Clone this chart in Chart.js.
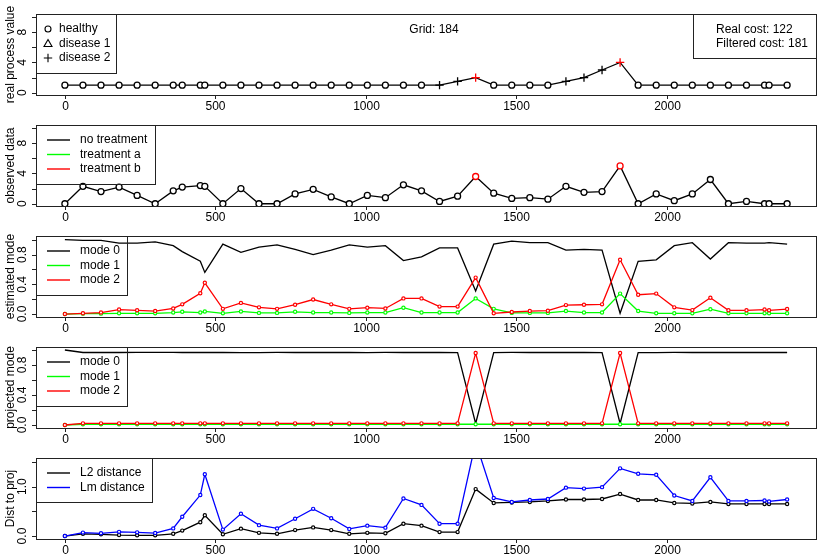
<!DOCTYPE html>
<html>
<head>
<meta charset="utf-8">
<script src="https://cdn.jsdelivr.net/npm/chart.js@4.4.0/dist/chart.umd.min.js"></script>
<style>
  body { margin: 0; background: #fff; }
  #wrap { position: relative; width: 830px; height: 554px; }
  canvas { position: absolute; left: 0; }
</style>
</head>
<body>
<div id="wrap"></div>
<script>
// time grid of the observations
var times = [0, 60, 120, 180, 240, 300, 360, 390, 450, 465, 525, 585, 645, 705, 765, 825, 885, 945, 1005, 1065,
  1125, 1185, 1245, 1305, 1365, 1425, 1485, 1545, 1605, 1665, 1725, 1785, 1845, 1905, 1965, 2025, 2085, 2145,
  2205, 2265, 2325, 2340, 2400];

// panel 1: real process (state 0 = healthy, 1 = disease 1, 2 = disease 2)
var realValue = [1, 1, 1, 1, 1, 1, 1, 1, 1, 1, 1, 1, 1, 1, 1, 1, 1, 1, 1, 1, 1, 1, 1, 1.5, 2, 1, 1, 1, 1, 1.5,
  2, 3, 4, 1, 1, 1, 1, 1, 1, 1, 1, 1, 1];
var realState = [0, 0, 0, 0, 0, 0, 0, 0, 0, 0, 0, 0, 0, 0, 0, 0, 0, 0, 0, 0, 0, 0, 2, 2, 2, 0, 0, 0, 0, 2,
  2, 2, 2, 0, 0, 0, 0, 0, 0, 0, 0, 0, 0];
// treatment given: 0 none, 1 a, 2 b
var treatment = [0, 0, 0, 0, 0, 0, 0, 0, 0, 0, 0, 0, 0, 0, 0, 0, 0, 0, 0, 0, 0, 0, 0, 0, 2, 0, 0, 0, 0, 0,
  0, 0, 2, 0, 0, 0, 0, 0, 0, 0, 0, 0, 0];

// panel 2: observed data
var observed = [0, 2.3, 1.6, 2.2, 1.1, 0, 1.7, 2.2, 2.4, 2.3, 0, 2.0, 0, 0, 1.3, 1.9, 0.9, 0, 1.1, 0.8,
  2.5, 1.7, 0.3, 1.0, 3.6, 1.4, 0.7, 0.8, 0.6, 2.3, 1.5, 1.6, 5.0, 0, 1.3, 0.4, 1.3, 3.2, 0, 0.3, 0, 0, 0];

// panel 3: estimated mode probabilities
var estMode0 = [1.0, 0.99, 0.99, 0.955, 0.955, 0.97, 0.92, 0.84, 0.71, 0.56, 0.94, 0.83, 0.90, 0.93, 0.87,
  0.80, 0.86, 0.93, 0.90, 0.92, 0.72, 0.77, 0.89, 0.89, 0.31, 0.94, 0.98, 0.96, 0.96, 0.86, 0.87, 0.86,
  0.01, 0.71, 0.73, 0.92, 0.96, 0.74, 0.96, 0.955, 0.955, 0.96, 0.94];
var estMode1 = [0, 0.005, 0.005, 0.01, 0.01, 0.01, 0.02, 0.03, 0.02, 0.035, 0.01, 0.035, 0.015, 0.015, 0.03,
  0.02, 0.02, 0.015, 0.02, 0.02, 0.085, 0.02, 0.02, 0.02, 0.21, 0.07, 0.015, 0.015, 0.015, 0.04, 0.02, 0.02,
  0.275, 0.04, 0.01, 0.01, 0.01, 0.065, 0.01, 0.01, 0.01, 0.01, 0.01];
var estMode2 = [0, 0.01, 0.02, 0.06, 0.05, 0.04, 0.075, 0.13, 0.28, 0.42, 0.07, 0.15, 0.09, 0.07, 0.125,
  0.195, 0.13, 0.07, 0.085, 0.075, 0.21, 0.21, 0.10, 0.10, 0.49, 0.01, 0.027, 0.04, 0.045, 0.12, 0.125, 0.13,
  0.73, 0.26, 0.275, 0.09, 0.053, 0.22, 0.05, 0.05, 0.06, 0.05, 0.067];

// panel 4: projected mode probabilities
var projMode0 = [1.0, 0.967, 0.967, 0.967, 0.968, 0.968, 0.967, 0.967, 0.967, 0.967, 0.967, 0.964, 0.966,
  0.967, 0.967, 0.967, 0.967, 0.967, 0.966, 0.967, 0.967, 0.967, 0.967, 0.964, 0.02, 0.964, 0.967, 0.967,
  0.967, 0.967, 0.967, 0.964, 0.02, 0.964, 0.966, 0.967, 0.967, 0.967, 0.967, 0.967, 0.967, 0.967, 0.967];
var projMode1 = [0, 0.01, 0.01, 0.01, 0.01, 0.01, 0.01, 0.01, 0.01, 0.01, 0.01, 0.01, 0.01, 0.01, 0.01,
  0.01, 0.01, 0.01, 0.01, 0.01, 0.01, 0.01, 0.01, 0.01, 0.01, 0.01, 0.01, 0.01, 0.01, 0.01, 0.01, 0.01,
  0.01, 0.01, 0.01, 0.01, 0.01, 0.01, 0.01, 0.01, 0.01, 0.01, 0.01];
var projMode2 = [0, 0.022, 0.022, 0.022, 0.022, 0.022, 0.022, 0.022, 0.022, 0.022, 0.022, 0.022, 0.022,
  0.022, 0.022, 0.022, 0.022, 0.022, 0.022, 0.022, 0.022, 0.022, 0.022, 0.022, 0.96, 0.022, 0.022, 0.022,
  0.022, 0.022, 0.022, 0.022, 0.96, 0.022, 0.022, 0.022, 0.022, 0.022, 0.022, 0.022, 0.022, 0.022, 0.022];

// panel 5: distance to projection
var distL2 = [0, 0.045, 0.035, 0.02, 0.015, 0.015, 0.045, 0.11, 0.28, 0.42, 0.035, 0.15, 0.065, 0.045, 0.12,
  0.175, 0.12, 0.045, 0.065, 0.055, 0.25, 0.21, 0.08, 0.08, 0.95, 0.67, 0.68, 0.69, 0.71, 0.74, 0.74, 0.75,
  0.85, 0.73, 0.73, 0.67, 0.66, 0.69, 0.65, 0.65, 0.65, 0.65, 0.65];
var distLm = [0, 0.07, 0.055, 0.085, 0.075, 0.06, 0.155, 0.39, 0.83, 1.25, 0.13, 0.45, 0.22, 0.155, 0.35,
  0.55, 0.36, 0.145, 0.21, 0.17, 0.76, 0.63, 0.25, 0.25, 1.9, 0.77, 0.69, 0.73, 0.75, 0.98, 0.96, 0.99,
  1.37, 1.26, 1.24, 0.82, 0.71, 1.19, 0.71, 0.71, 0.72, 0.70, 0.74];

var xTicks = [0, 500, 1000, 1500, 2000];
var countTicks = [0, 2, 4, 6, 8, 10];
var countLabels = [0, 4, 8];
var probTicks = [0, 0.2, 0.4, 0.6, 0.8, 1.0];
var probLabels = [0, 0.4, 0.8];
var distTicks = [0, 0.5, 1.0, 1.5];
var distLabels = [0, 1.0];

var gridSize = 184, realCost = 122, filteredCost = 181;

var BLACK = '#000000', GREEN = '#00ff00', RED = '#ff0000', BLUE = '#0000ff';
var FONT = '"Liberation Sans", Arial, Helvetica, sans-serif';

function pts(ys) {
  return times.map(function(t, i) { return {x: t, y: ys[i]}; });
}

function smallPts(ys, color) {
  return {
    data: pts(ys), borderColor: color, borderWidth: 1.3,
    pointRadius: 1.6, pointBorderWidth: 1.2, pointBorderColor: color, pointBackgroundColor: '#fff'
  };
}

function plainLine(ys, color) {
  return { data: pts(ys), borderColor: color, borderWidth: 1.3, pointRadius: 0 };
}

var stateStyle = ['circle', 'triangle', 'cross'];
var treatColor = [BLACK, GREEN, RED];

var panels = [
  {
    yMin: -0.3, yMax: 10.4, ticks: countTicks, labels: countLabels, digits: 0,
    title: 'real process value',
    legend: {w: 80, kind: 'symbol', items: [['circle', 'healthy'], ['triangle', 'disease 1'], ['cross', 'disease 2']]},
    extra: true,
    datasets: [{
      data: pts(realValue), borderColor: BLACK, borderWidth: 1.3,
      pointStyle: realState.map(function(s) { return stateStyle[s]; }),
      pointRadius: realState.map(function(s) { return s === 2 ? 4.2 : 3; }),
      pointBorderColor: treatment.map(function(t) { return treatColor[t]; }),
      pointBackgroundColor: '#fff', pointBorderWidth: 1.3
    }]
  },
  {
    yMin: -0.3, yMax: 10.4, ticks: countTicks, labels: countLabels, digits: 0,
    title: 'observed data',
    legend: {w: 119, kind: 'line', items: [[BLACK, 'no treatment'], [GREEN, 'treatment a'], [RED, 'treatment b']]},
    datasets: [{
      data: pts(observed), borderColor: BLACK, borderWidth: 1.3,
      pointRadius: 3, pointBorderWidth: 1.3, pointBackgroundColor: '#fff',
      pointBorderColor: treatment.map(function(t) { return treatColor[t]; })
    }]
  },
  {
    yMin: -0.04, yMax: 1.05, ticks: probTicks, labels: probLabels, digits: 1,
    title: 'estimated mode',
    legend: {w: 91, kind: 'line', items: [[BLACK, 'mode 0'], [GREEN, 'mode 1'], [RED, 'mode 2']]},
    datasets: [smallPts(estMode2, RED), smallPts(estMode1, GREEN), plainLine(estMode0, BLACK)]
  },
  {
    yMin: -0.04, yMax: 1.04, ticks: probTicks, labels: probLabels, digits: 1,
    title: 'projected mode',
    legend: {w: 91, kind: 'line', items: [[BLACK, 'mode 0'], [GREEN, 'mode 1'], [RED, 'mode 2']]},
    datasets: [smallPts(projMode2, RED), smallPts(projMode1, GREEN), plainLine(projMode0, BLACK)]
  },
  {
    yMin: -0.06, yMax: 1.58, ticks: distTicks, labels: distLabels, digits: 1,
    title: 'Dist to proj',
    legend: {w: 116, kind: 'line', items: [[BLACK, 'L2 distance'], [BLUE, 'Lm distance']]},
    datasets: [smallPts(distLm, BLUE), smallPts(distL2, BLACK)]
  }
];

function drawSymbol(ctx, kind, cx, cy) {
  ctx.beginPath();
  if (kind === 'circle') {
    ctx.arc(cx, cy, 3, 0, Math.PI * 2);
  } else if (kind === 'triangle') {
    ctx.moveTo(cx, cy - 4); ctx.lineTo(cx + 4, cy + 3); ctx.lineTo(cx - 4, cy + 3); ctx.closePath();
  } else {
    ctx.moveTo(cx - 4.2, cy); ctx.lineTo(cx + 4.2, cy);
    ctx.moveTo(cx, cy - 4.2); ctx.lineTo(cx, cy + 4.2);
  }
  ctx.stroke();
}

var rFrame = {
  id: 'rFrame',
  afterDraw: function(chart, args, o) {
    var ctx = chart.ctx, a = chart.chartArea, xs = chart.scales.x, ys = chart.scales.y;
    ctx.save();
    ctx.strokeStyle = '#222'; ctx.fillStyle = '#000'; ctx.lineWidth = 1;
    ctx.strokeRect(Math.round(a.left) + 0.5, Math.round(a.top) + 0.5,
      Math.round(a.right - a.left), Math.round(a.bottom - a.top));

    // x axis
    ctx.font = '12px ' + FONT;
    ctx.textAlign = 'center'; ctx.textBaseline = 'middle';
    xTicks.forEach(function(v) {
      var px = Math.round(xs.getPixelForValue(v)) + 0.5;
      ctx.beginPath(); ctx.moveTo(px, a.bottom); ctx.lineTo(px, a.bottom + 4); ctx.stroke();
      ctx.fillText(String(v), px, a.bottom + 12);
    });

    // y axis
    o.ticks.forEach(function(v) {
      var py = Math.round(ys.getPixelForValue(v)) + 0.5;
      ctx.beginPath(); ctx.moveTo(a.left - 4, py); ctx.lineTo(a.left, py); ctx.stroke();
    });
    ctx.textBaseline = 'alphabetic';
    o.labels.forEach(function(v) {
      var py = ys.getPixelForValue(v);
      ctx.save(); ctx.translate(26, py); ctx.rotate(-Math.PI / 2);
      ctx.fillText(v.toFixed(o.digits), 0, 0);
      ctx.restore();
    });

    // axis title
    ctx.font = '12px ' + FONT;
    ctx.save(); ctx.translate(14, (a.top + a.bottom) / 2); ctx.rotate(-Math.PI / 2);
    ctx.textBaseline = 'alphabetic';
    ctx.fillText(o.title, 0, 0);
    ctx.restore();

    // legend box
    var lg = o.legend, n = lg.items.length;
    var bh = n === 3 ? 59 : 44;
    ctx.strokeRect(Math.round(a.left) + 0.5, Math.round(a.top) + 0.5, lg.w, bh);
    ctx.textAlign = 'left'; ctx.textBaseline = 'middle';
    lg.items.forEach(function(it, i) {
      var cy = a.top + 15 + i * 14.5;
      if (lg.kind === 'symbol') {
        ctx.strokeStyle = '#000'; ctx.lineWidth = 1.1;
        drawSymbol(ctx, it[0], a.left + 12, cy);
        ctx.fillText(it[1], a.left + 23, cy);
      } else {
        ctx.strokeStyle = it[0]; ctx.lineWidth = 1.4;
        ctx.beginPath(); ctx.moveTo(a.left + 11, cy); ctx.lineTo(a.left + 34, cy); ctx.stroke();
        ctx.fillText(it[1], a.left + 44, cy);
      }
    });

    if (o.extra) {
      ctx.textAlign = 'center';
      ctx.fillText('Grid: ' + gridSize, 434, a.top + 16);
      ctx.strokeStyle = '#222'; ctx.lineWidth = 1;
      ctx.strokeRect(693.5, Math.round(a.top) + 0.5, Math.round(a.right) - 693, 44);
      ctx.textAlign = 'left';
      ctx.fillText('Real cost: ' + realCost, 716, a.top + 16);
      ctx.fillText('Filtered cost: ' + filteredCost, 716, a.top + 30);
    }
    ctx.restore();
  }
};

var wrap = document.getElementById('wrap');
var plotTops = [14, 125, 236, 347, 458];
var plotH = 81;

panels.forEach(function(p, k) {
  var cv = document.createElement('canvas');
  var top = plotTops[k] - 14;
  var h = k === 4 ? 554 - top : 111;
  cv.width = 830; cv.height = h;
  cv.style.top = top + 'px';
  wrap.appendChild(cv);

  new Chart(cv, {
    type: 'line',
    data: { datasets: p.datasets },
    options: {
      responsive: false, animation: false, devicePixelRatio: 1,
      layout: { padding: { left: 36, right: 14, top: 14, bottom: h - 14 - plotH } },
      elements: { line: { tension: 0 } },
      scales: {
        x: { type: 'linear', display: false, min: -96, max: 2496 },
        y: { type: 'linear', display: false, min: p.yMin, max: p.yMax }
      },
      plugins: {
        legend: { display: false }, tooltip: { enabled: false },
        rFrame: { ticks: p.ticks, labels: p.labels, digits: p.digits, title: p.title, legend: p.legend, extra: !!p.extra }
      }
    },
    plugins: [rFrame]
  });
});
</script>
</body>
</html>
